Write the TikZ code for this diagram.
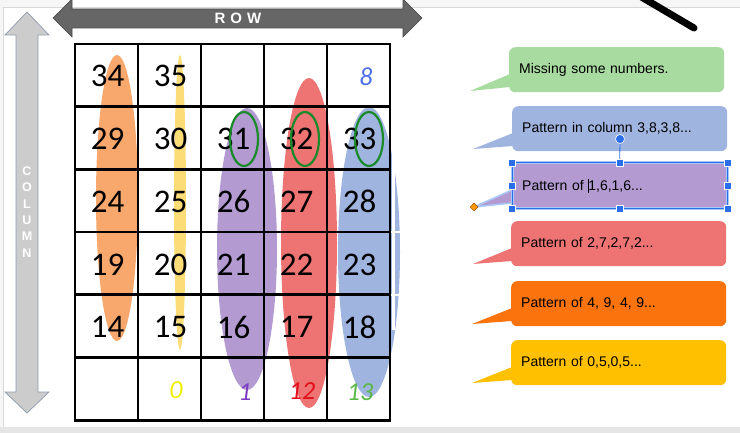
\documentclass[tikz,border=0pt]{standalone}
\usepackage{fontspec}
\newfontfamily\numfont{Carlito}
\newfontfamily\labfont{Liberation Sans}
\usepackage{tikz}
\usetikzlibrary{calc, shapes.geometric}

\definecolor{rowgray}{HTML}{666666}
\definecolor{colgray}{HTML}{CCCCCC}
\definecolor{colline}{HTML}{8E9AAE}
\definecolor{elOrange}{HTML}{F8A86C}
\definecolor{elYellow}{HTML}{FCDC76}
\definecolor{elPurple}{HTML}{B39BD2}
\definecolor{elRed}{HTML}{EE7373}
\definecolor{elBlue}{HTML}{A0B4E0}
\definecolor{ringGreen}{HTML}{1B8A2A}
\definecolor{cGreen}{HTML}{A8DBA0}
\definecolor{cOrange}{HTML}{FA730C}
\definecolor{cYellow}{HTML}{FFC000}
\definecolor{selBlue}{HTML}{2A6EE8}
\definecolor{selGlow}{HTML}{A9C7F7}
\definecolor{handBlue}{HTML}{4F6FE8}
\definecolor{handYellow}{HTML}{F2EE00}
\definecolor{handPurple}{HTML}{7A3CC0}
\definecolor{handRed}{HTML}{E0101A}
\definecolor{handGreen}{HTML}{5AB848}

\tikzset{
  callout/.style={anchor=north west, rounded corners=6pt, text width=195pt,
    inner xsep=10pt, inner ysep=0pt, minimum height=45pt, align=left,
    font=\labfont\fontsize{14}{16}\selectfont},
  digit/.style={font=\numfont\fontsize{33}{36}\selectfont, inner sep=0pt},
  hand/.style={font=\numfont\itshape\fontsize{26}{28}\selectfont, inner sep=0pt},
  gridline/.style={black, line width=2.8pt, line cap=rect},
  grip/.style={rectangle, fill=selBlue, draw=white, line width=0.6pt,
    minimum size=7pt, inner sep=0pt},
}

\begin{document}
\begin{tikzpicture}[x=1pt, y=-1pt]
\useasboundingbox (0,0) rectangle (740,433);
\def\gx{75}
\def\gy{44}
\def\cw{63}
\def\ch{62.7}

% window frame
\fill[gray!7] (0,0) rectangle (740,7);
\fill[gray!7] (0,7) rectangle (3,427);
\fill[white] (72,0) rectangle (403,8);
\draw[gray!30, line width=0.6pt] (3,7.5) -- (740,7.5);
\draw[gray!30, line width=0.6pt] (3.5,7.5) -- (3.5,427);
\fill[gray!20] (0,427) rectangle (740,433);

% arrows
\filldraw[fill=rowgray, draw=rowgray!70!black, line width=0.6pt]
    (53,18) -- (72,-1) -- (72,9) -- (403,9) -- (403,-1) -- (422,18)
    -- (403,37) -- (403,28) -- (72,28) -- (72,37) -- cycle;
\node[font=\labfont\bfseries\fontsize{15}{17}\selectfont, text=white] (rowlbl)
    at (238,18.5) {R\hspace{5pt}O\hspace{5pt}W};
\filldraw[fill=colgray, draw=colline, line width=0.7pt]
    (27,12) -- (49,35) -- (38,35) -- (38,392) -- (49,392) -- (27,413)
    -- (5,392) -- (16,392) -- (16,35) -- (5,35) -- cycle;
\node[align=center, font=\labfont\bfseries\fontsize{12.5}{16.4}\selectfont,
    text=white] (collbl) at (27,212) {C\\O\\L\\U\\M\\N};

\draw[line width=7pt, line cap=round] (638,-5) -- (694,28);

% pattern ellipses
\fill[elOrange] (117,198) ellipse [x radius=21, y radius=143];
\fill[elYellow] (180,202.5) ellipse [x radius=6, y radius=147.5];
\fill[elPurple] (247,249) ellipse [x radius=30, y radius=141];
\fill[elRed] (309,243) ellipse [x radius=28, y radius=165];
\fill[elBlue] (369,252) ellipse [x radius=31, y radius=145];
\draw[white, line width=3pt] (393.5,150) -- (393.5,330);
\foreach \j in {3,4}
    \draw[white, line width=2.5pt] (391,\gy+\j*\ch) -- (403,\gy+\j*\ch);

% grid
\foreach \i in {0,...,5}
    \draw[gridline] (\gx+\i*\cw,\gy) -- (\gx+\i*\cw,\gy+6*\ch);
\foreach \j in {0,...,6}
    \draw[gridline] (\gx,\gy+\j*\ch) -- (\gx+5*\cw,\gy+\j*\ch);

\foreach \r in {0,...,4}{
    \foreach \c in {0,...,4}{
        \pgfmathtruncatemacro{\v}{34+\c-5*\r}
        \ifnum\v<36
            \node[digit] (n\v) at (\gx+\c*\cw+\cw/2+1,\gy+\r*\ch+\ch/2+1) {\v};
        \fi
    }
}

\node[hand, text=handBlue] (h8) at (366,77) {8};
\node[hand, text=handYellow] (h0) at (176,390) {0};
\node[hand, text=handPurple] (h1) at (245,392) {1};
\node[hand, text=handRed] (h12) at (302,391) {12};
\node[hand, text=handGreen] (h13) at (360,392) {13};

\foreach \xc in {244,305,369}
    \draw[ringGreen, line width=2.2pt] (\xc,139) ellipse [x radius=14, y radius=27];

% callouts
\foreach \nm/\cl/\bx/\by/\tx/\ty/\msg in {
    cMissing/cGreen/509/47/470/91/{Missing some numbers.},
    cColumn/elBlue/512/106/473/149/{Pattern in column 3,8,3,8...},
    cOne/elPurple/512/163/474/207/{Pattern of \makebox[0pt]{\rule[-2.5pt]{1.6pt}{14pt}}1,6,1,6...},
    cTwo/elRed/511/221/473/264/{Pattern of 2,7,2,7,2...},
    cFour/cOrange/511/281/472/324/{Pattern of 4, 9, 4, 9...},
    cZero/cYellow/511/340/472/383/{Pattern of 0,5,0,5...}}{
    \node[callout, fill=\cl] (\nm) at (\bx,\by) {\msg};
    \coordinate (\nm-tip) at (\tx,\ty);
    \fill[\cl] ($(\nm.north west)+(1,27)$) -- (\nm-tip)
        -- ($(\nm.north west)+(1,40)$) -- cycle;
}

% selection on the purple callout
\draw[selGlow, line width=1.6pt] ($(cOne.north west)+(0,27)$) -- (cOne-tip)
    -- ($(cOne.north west)+(0,40)$);
\draw[selGlow, line width=3pt] (cOne.north west) rectangle (cOne.south east);
\draw[selBlue, line width=1pt] (cOne.north west) rectangle (cOne.south east);
\node[circle, fill=selBlue, draw=white, line width=0.6pt, minimum size=9pt,
    inner sep=0pt] (rot) at (620,139) {};
\draw[selBlue, line width=0.8pt] (rot) -- (cOne.north);
\foreach \a in {north west, north, north east, west, east, south west, south, south east}
    \node[grip] at (cOne.\a) {};
\node[diamond, fill=orange!80!yellow, draw=orange!60!black, line width=0.5pt,
    minimum size=8pt, inner sep=0pt] (tipgrip) at (cOne-tip) {};
\end{tikzpicture}
\end{document}
